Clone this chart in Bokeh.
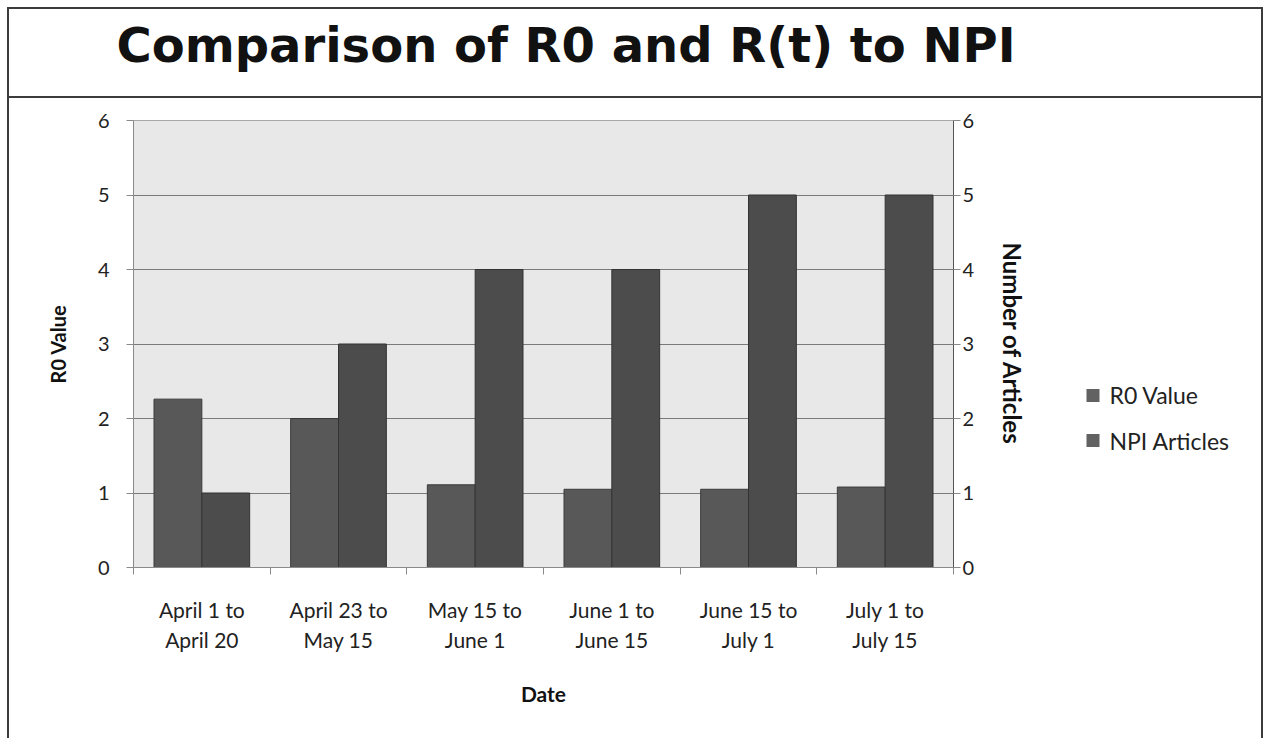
import numpy as np
from bokeh.plotting import figure
from bokeh.models import (Range1d, LinearAxis, FixedTicker, Title, ColumnDataSource)
from bokeh.embed import file_html
from bokeh.resources import INLINE

# ---------------- data ----------------
periods = ["April 1 to\nApril 20", "April 23 to\nMay 15", "May 15 to\nJune 1",
           "June 1 to\nJune 15", "June 15 to\nJuly 1", "July 1 to\nJuly 15"]
r0_values = [2.26, 2.0, 1.11, 1.05, 1.05, 1.08]
npi_articles = [1, 3, 4, 4, 5, 5]
y_ticks = [0, 1, 2, 3, 4, 5, 6]
legend_labels = ["R0 Value", "NPI Articles"]
title_text = "Comparison of R0 and R(t) to NPI"

# legend rows, placed in y-axis units beside the plot
legend_rows = [2.31, 1.70]

n = len(periods)
idx = np.arange(n)
centers = [float(c) for c in idx + 0.5]
boundaries = list(range(n + 1))
src = ColumnDataSource(dict(x_r0=idx + 0.325, x_npi=idx + 0.675,
                            r0=r0_values, npi=npi_articles))

LBL_FONT = "Lato"
EDGE = "#3c3c3c"

p = figure(frame_width=820, frame_height=447,
           x_range=Range1d(0, n), y_range=Range1d(0, 6),
           output_backend="svg", toolbar_location=None,
           x_axis_location=None, y_axis_location=None,
           min_border_left=133, min_border_right=313,
           min_border_top=120, min_border_bottom=171)

# outer box + divider under the title (CSS background of the plot element)
line = f"linear-gradient({EDGE}, {EDGE})"
p.border_fill_color = None
p.styles = {
    "background-color": "#ffffff",
    "background-image": ", ".join([line] * 4),
    "background-size": "1256px 2px, 1256px 2px, 2px 740px, 2px 740px",
    "background-position": "7px 7px, 7px 96px, 7px 7px, 1261px 7px",
    "background-repeat": "no-repeat",
}

p.background_fill_color = "#e8e8e8"
p.outline_line_color = "#a8a8a8"
p.xgrid.visible = False
p.ygrid.ticker = FixedTicker(ticks=y_ticks)
p.ygrid.grid_line_color = "#7a7a7a"
p.ygrid.grid_line_width = 1

# invisible spacer between the plot area and the title
top_spacer = LinearAxis(ticker=FixedTicker(ticks=[0.0]))
top_spacer.major_label_overrides = {0.0: ""}
top_spacer.axis_line_color = None
top_spacer.major_tick_line_color = None
top_spacer.minor_tick_line_color = None
top_spacer.major_tick_in = 0
top_spacer.major_tick_out = 43
top_spacer.minor_tick_in = 0
top_spacer.minor_tick_out = 0
top_spacer.major_label_standoff = 0
top_spacer.major_label_text_font_size = "1px"
p.add_layout(top_spacer, "above")

# title
t = Title(text=title_text, align="left", offset=-17, standoff=10,
          text_font="DejaVu Sans", text_font_style="bold",
          text_font_size="48px", text_color="#111111")
p.add_layout(t, "above")

r1 = p.vbar(x="x_r0", top="r0", width=0.35, source=src,
            fill_color="#585858", line_color="#3a3a3a", line_width=1)
r2 = p.vbar(x="x_npi", top="npi", width=0.35, source=src,
            fill_color="#4c4c4c", line_color="#333333", line_width=1)


def style_y(ax):
    ax.major_tick_in = 0
    ax.major_tick_out = 7
    ax.minor_tick_in = 0
    ax.minor_tick_out = 0
    ax.axis_line_color = "#8a8a8a"
    ax.major_tick_line_color = "#8a8a8a"
    ax.major_label_text_font = LBL_FONT
    ax.major_label_text_font_size = "20px"
    ax.major_label_text_color = "#222222"
    ax.axis_label_text_font = LBL_FONT
    ax.axis_label_text_font_style = "bold"
    ax.axis_label_text_color = "#111111"


yl = LinearAxis(ticker=FixedTicker(ticks=y_ticks), axis_label="R0 Value")
style_y(yl)
yl.axis_label_text_font_size = "20px"
yl.major_label_standoff = 17
yl.axis_label_standoff = 25
p.add_layout(yl, "left")

yr = LinearAxis(ticker=FixedTicker(ticks=y_ticks), axis_label="Number of Articles")
style_y(yr)
yr.axis_label_text_font_size = "24px"
yr.axis_line_color = "#555555"
yr.major_label_standoff = 2
yr.axis_label_standoff = 21
p.add_layout(yr, "right")

# legend: square markers (thick ticks) + series names, beside the right axis
lg = LinearAxis(ticker=FixedTicker(ticks=legend_rows))
lg.major_label_overrides = {y: lab for y, lab in zip(legend_rows, legend_labels)}
lg.axis_line_color = None
lg.minor_tick_line_color = None
lg.minor_tick_in = 0
lg.minor_tick_out = 0
lg.major_tick_in = -56
lg.major_tick_out = 69
lg.major_tick_line_color = "#626262"
lg.major_tick_line_width = 13
lg.major_label_standoff = 10
lg.major_label_text_font = LBL_FONT
lg.major_label_text_font_size = "23px"
lg.major_label_text_color = "#222222"
lg.major_label_text_align = "left"
p.add_layout(lg, "right")

# boundary ticks axis
xb = LinearAxis(ticker=FixedTicker(ticks=boundaries))
xb.major_label_overrides = {b: "" for b in boundaries}
xb.major_label_text_font_size = "1px"
xb.major_label_standoff = 0
xb.major_tick_in = 0
xb.major_tick_out = 7
xb.minor_tick_in = 0
xb.minor_tick_out = 0
xb.axis_line_color = "#8a8a8a"
xb.major_tick_line_color = "#8a8a8a"
p.add_layout(xb, "below")

# category label axis
xl = LinearAxis(ticker=FixedTicker(ticks=centers), axis_label="Date")
xl.major_label_overrides = {c: lab for c, lab in zip(centers, periods)}
xl.axis_line_color = None
xl.major_tick_line_color = None
xl.minor_tick_line_color = None
xl.major_tick_out = 0
xl.major_tick_in = 0
xl.major_label_standoff = 22
xl.major_label_text_font = LBL_FONT
xl.major_label_text_font_size = "21px"
xl.major_label_text_color = "#222222"
xl.major_label_text_line_height = 1.2
xl.axis_label_text_font = LBL_FONT
xl.axis_label_text_font_style = "bold"
xl.axis_label_text_font_size = "21px"
xl.axis_label_text_color = "#111111"
xl.axis_label_standoff = 26
p.add_layout(xl, "below")

open("out.html", "w").write(file_html(p, INLINE))
